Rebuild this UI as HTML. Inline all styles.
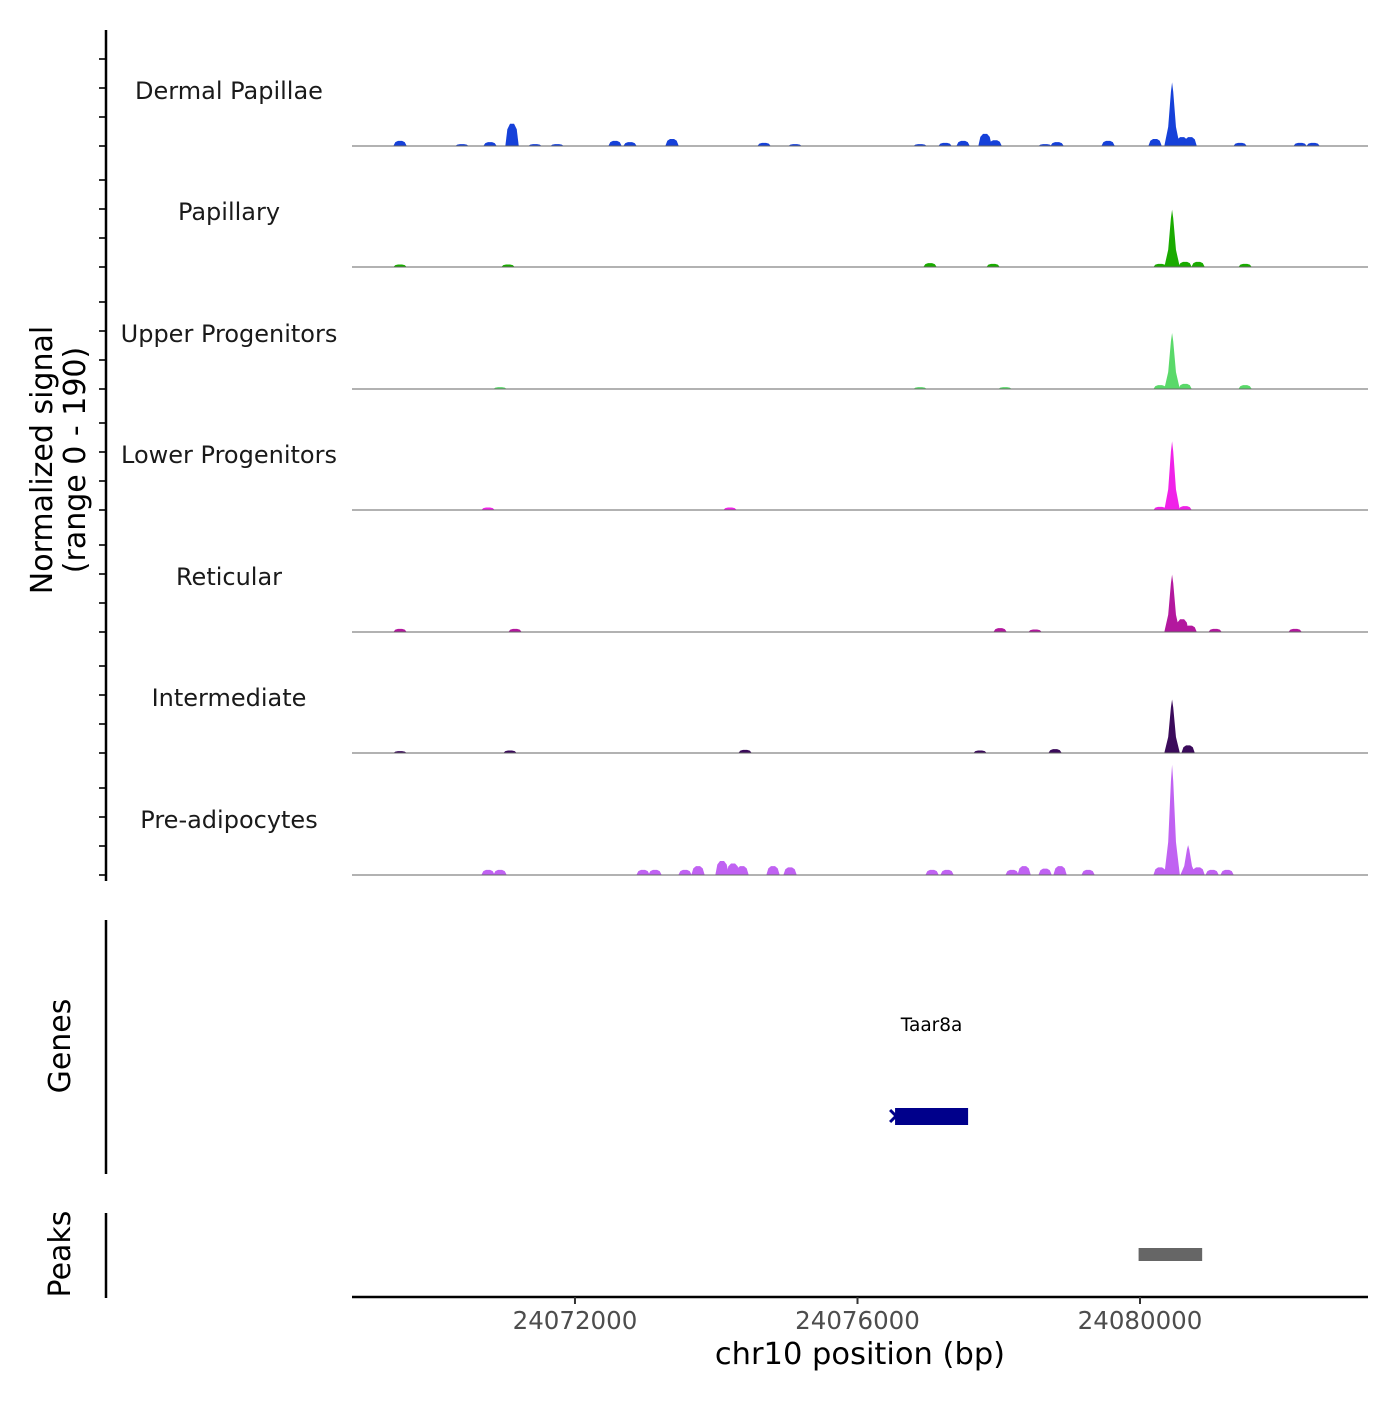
<!DOCTYPE html>
<html><head><meta charset="utf-8"><style>
body{margin:0;background:#fff;}
svg text{font-family:"DejaVu Sans","Liberation Sans",sans-serif;}
</style></head><body>
<svg id="chart" width="1400" height="1400" xmlns="http://www.w3.org/2000/svg">
<g id="tracks"></g>
<g id="axes"></g>
</svg>
<script>
const trackNames = ["Dermal Papillae","Papillary","Upper Progenitors","Lower Progenitors","Reticular","Intermediate","Pre-adipocytes"];
const trackColors = ["#1641d9","#1aab00","#5ad96a","#f022e8","#b3189e","#3b0b5b","#c062f2"];
const dpPos = [24069523,24070400,24070797,24071109,24071434,24071746,24072567,24072779,24073374,24074677,24075116,24076886,24077240,24077495,24077806,24077948,24078656,24078826,24079548,24080213,24080454,24080596,24080709,24081417,24082267,24082451];
const dpVal = [8,3,6,35,3,3,8,6,11,5,3,3,5,8,19,9,3,6,8,11,100,14,14,5,5,5];
const papPos = [24069523,24071052,24077027,24077920,24080284,24080454,24080638,24080822,24081488];
const papVal = [4,4,6,5,5,90,8,8,5];
const upPos = [24070939,24076886,24078089,24080284,24080454,24080638,24081488];
const upVal = [3,3,3,6,88,8,6];
const lpPos = [24070769,24074195,24080284,24080454,24080638];
const lpVal = [4,4,5,108,6];
const retPos = [24069523,24071151,24078019,24078514,24080454,24080596,24080709,24081063,24082196];
const retVal = [5,5,6,4,90,20,10,5,5];
const intPos = [24069523,24071080,24074408,24077735,24078797,24080454,24080681];
const intVal = [3,4,5,4,6,84,12];
const paPos = [24070769,24070939,24072964,24073133,24073558,24073742,24074082,24074238,24074365,24074804,24075045,24077056,24077268,24078189,24078359,24078656,24078868,24079265,24080284,24080454,24080681,24080822,24081021,24081233];
const paVal = [8,8,8,8,8,14,22,18,14,14,12,8,8,8,14,10,14,8,12,173,47,12,8,8];
const trackPos = [dpPos,papPos,upPos,lpPos,retPos,intPos,paPos];
const trackVal = [dpVal,papVal,upVal,lpVal,retVal,intVal,paVal];
const xTicks = [24072000,24076000,24080000];
const xTickLabels = ["24072000","24076000","24080000"];
const geneName = "Taar8a";
const geneStart = 24076532, geneEnd = 24077566;
const peakStart = 24079980, peakEnd = 24080880;

const NS="http://www.w3.org/2000/svg";
const X0=352,X1=1368,BP0=24068843,BP1=24083228;
const xs = bp => X0 + (bp-BP0)/(BP1-BP0)*(X1-X0);
const ys = (v,base) => base - v/190*121;
const baselines=[146,267,389,510,632,753,875];
function mk(tag,attrs,parent){const e=document.createElementNS(NS,tag);for(const k in attrs)e.setAttribute(k,attrs[k]);parent.appendChild(e);return e;}
const T=document.getElementById('tracks'), A=document.getElementById('axes');

trackNames.forEach((name,i)=>{
  const b=baselines[i];
  const g=mk('g',{},T);
  
  
  const lab=mk('text',{x:229,y:b-47,'text-anchor':'middle','font-size':24,fill:'#1a1a1a'},g);
  lab.textContent=name;
  
  
  trackPos[i].forEach((p,j)=>{
    const v=trackVal[i][j];
    const big = v>40;
    const hw = big?110:95;
    const cx=xs(p), w=hw/(BP1-BP0)*(X1-X0);
    const top=ys(v,b);
    const h=b-top;
    const d = big
      ? `M${cx-w},${b} L${cx-w*0.5},${b-h*0.3} L${cx-w*0.15},${b-h*0.85} L${cx},${top} L${cx+w*0.15},${b-h*0.85} L${cx+w*0.5},${b-h*0.3} L${cx+w},${b} Z`
      : `M${cx-w},${b} L${cx-w*0.7},${b-h*0.75} L${cx-w*0.3},${top} L${cx+w*0.3},${top} L${cx+w*0.7},${b-h*0.75} L${cx+w},${b} Z`;
    const pk=mk('path',{d:d,fill:trackColors[i]},g);
    
    
  });
  const bl=mk('line',{x1:X0,x2:X1,y1:b,y2:b,stroke:'#666','stroke-width':1},g);
  
  
  for(let k=0;k<4;k++){
    const ty=b-k*29;
    const tk=mk('line',{x1:99,x2:106,y1:ty,y2:ty,stroke:'#333','stroke-width':2},A);
    
    
  }
});
const tk0=mk('line',{x1:99,x2:106,y1:59,y2:59,stroke:'#333','stroke-width':2},A);


const ya=mk('line',{x1:106,x2:106,y1:30,y2:881,stroke:'#000','stroke-width':2.5},A);


const yt=mk('text',{transform:'translate(52,460) rotate(-90)','text-anchor':'middle','font-size':30,fill:'#000'},A);
yt.textContent='Normalized signal';


const yt2=mk('text',{transform:'translate(85,460) rotate(-90)','text-anchor':'middle','font-size':30,fill:'#000'},A);
yt2.textContent='(range 0 - 190)';



// genes
const gl=mk('line',{x1:106,x2:106,y1:920,y2:1174,stroke:'#000','stroke-width':2.5},A);


const gt=mk('text',{transform:'translate(70,1046) rotate(-90)','text-anchor':'middle','font-size':30,fill:'#000'},A);
gt.textContent='Genes';


const gn=mk('text',{x:(xs(geneStart)+xs(geneEnd))/2,y:1031,'text-anchor':'middle','font-size':18.5,fill:'#000'},A);
gn.textContent=geneName;


const gb=mk('rect',{x:xs(geneStart),y:1108,width:xs(geneEnd)-xs(geneStart),height:17,fill:'#00008b'},A);


const ga=mk('path',{d:`M${xs(geneStart)-5},1110 L${xs(geneStart)+1},1116 L${xs(geneStart)-5},1122`,stroke:'#00008b','stroke-width':3,fill:'none'},A);



// peaks
const pl=mk('line',{x1:106,x2:106,y1:1213,y2:1298,stroke:'#000','stroke-width':2.5},A);


const pt=mk('text',{transform:'translate(70,1254) rotate(-90)','text-anchor':'middle','font-size':30,fill:'#000'},A);
pt.textContent='Peaks';


const pr=mk('rect',{x:xs(peakStart),y:1248,width:xs(peakEnd)-xs(peakStart),height:13,fill:'#666'},A);



// x axis
const xa=mk('line',{x1:X0,x2:X1,y1:1297,y2:1297,stroke:'#000','stroke-width':2.5},A);


xTicks.forEach((t,i)=>{
  const l=mk('line',{x1:xs(t),x2:xs(t),y1:1297,y2:1304,stroke:'#333','stroke-width':2},A);
  
  
  const tx=mk('text',{x:xs(t),y:1329,'text-anchor':'middle','font-size':24.5,fill:'#4d4d4d'},A);
  tx.textContent=xTickLabels[i];
  
  
});
const xt=mk('text',{x:860,y:1364,'text-anchor':'middle','font-size':30.5,fill:'#000'},A);
xt.textContent='chr10 position (bp)';


</script>
</body></html>
